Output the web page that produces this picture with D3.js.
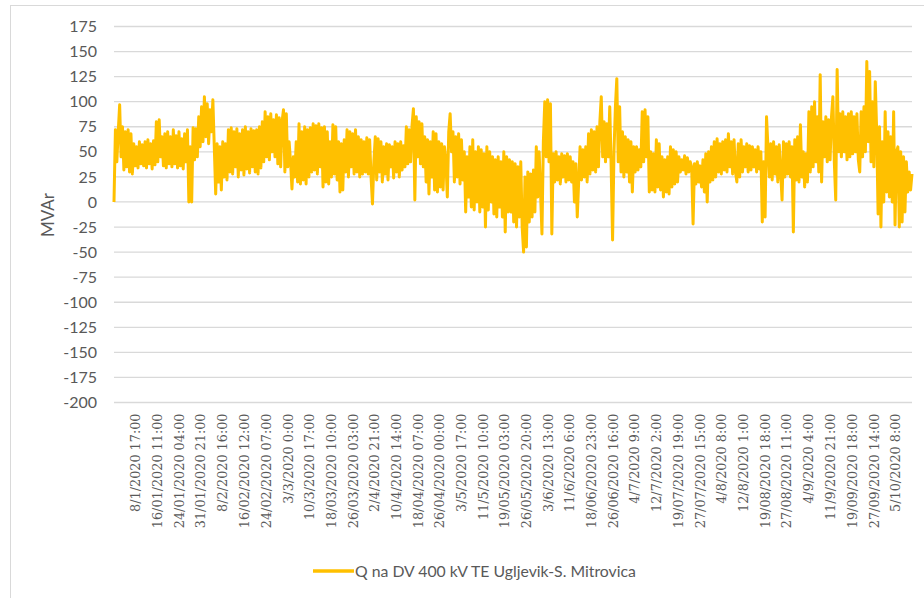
<!DOCTYPE html>
<html><head><meta charset="utf-8">
<script src="https://cdn.jsdelivr.net/npm/d3@7"></script>
<style>body{margin:0;background:#fff}svg{display:block}</style>
</head><body>
<svg id="c" width="924" height="598"></svg>
<script>
const qValues = [
  0, 72, 40, 70, 97, 45, 75, 32, 70, 35, 72, 30, 68, 28, 58, 36, 55, 34, 60, 38,
  57, 36, 60, 34, 62, 38, 58, 33, 61, 37, 80, 40, 82, 45, 65, 36, 68, 34, 70, 38,
  65, 35, 72, 38, 66, 34, 70, 36, 63, 33, 68, 40, 72, 0, 55, 0, 74, 42, 73, 45,
  85, 55, 95, 60, 105, 65, 98, 58, 92, 70, 102, 55, 8, 58, 20, 55, 12, 60, 25, 58,
  22, 72, 30, 74, 28, 70, 35, 73, 25, 68, 32, 72, 27, 75, 33, 70, 29, 73, 35, 71,
  30, 72, 28, 75, 34, 80, 40, 90, 45, 85, 42, 88, 50, 82, 45, 87, 38, 84, 35, 80,
  92, 30, 88, 35, 60, 40, 13, 45, 25, 60, 20, 78, 18, 70, 22, 75, 18, 72, 25, 74,
  30, 78, 32, 76, 28, 78, 35, 74, 15, 75, 20, 70, 18, 60, 25, 77, 28, 75, 22, 60,
  10, 58, 12, 62, 30, 72, 25, 70, 35, 68, 28, 72, 30, 65, 25, 62, 28, 60, 30, 64,
  28, 62, 25, -2, 40, 65, 22, 63, 30, 60, 20, 55, 28, 58, 22, 57, 35, 55, 24, 60,
  30, 58, 25, 60, 32, 56, 35, 75, 38, 72, 40, 76, 93, 2, 85, 45, 80, 38, 78, 35,
  65, 20, 62, 8, 60, 25, 70, 12, 68, 10, 60, 15, 58, 12, 55, 40, 5, 70, 88, 50,
  70, 20, 65, 25, 68, 18, 62, 22, 50, -10, 45, 5, 55, -5, 62, -8, 50, 0, 55, -10,
  52, -5, 48, -25, 55, -8, 50, 0, 45, -12, 42, -15, 45, -5, 40, -15, 50, -30, 45, -10,
  42, -10, 40, -20, 38, -25, 35, -15, 40, -25, -50, 25, -45, 30, -20, 28, -15, 32, -10, 55,
  5, 50, 10, -32, 60, 100, 45, 102, 40, 98, -32, 48, 20, 50, 22, 45, 18, 48, 25, 46,
  20, 48, 22, 45, 20, 40, 0, 38, -15, 20, 55, 22, 52, 25, 55, 20, 68, 28, 72, 32,
  70, 30, 75, 35, 80, 105, 45, 80, 40, 78, 45, 95, 35, -38, 50, 95, 123, 40, 95, 30,
  70, 25, 65, 30, 62, 20, 60, 10, 55, 30, 55, 32, 52, 35, 90, 40, 92, 45, 85, 10,
  50, 12, 48, 10, 62, 15, 58, 12, 45, 5, 42, 10, 45, 8, 55, 15, 52, 18, 50, 20,
  45, 30, 42, 32, 46, 28, 44, 30, 40, 35, -22, 38, 18, 40, 20, 36, 15, 42, 10, 48,
  0, 50, 20, 55, 22, 60, 25, 63, 30, 58, 28, 60, 32, 62, 30, 68, 35, 60, 28, 62,
  30, 20, 58, 25, 62, 30, 55, 35, 58, 30, 56, 32, 55, 35, 52, 30, 55, 33, 50, -20,
  40, -15, 85, 55, 25, 58, 22, 60, 28, 55, 20, 57, 30, 2, 60, 25, 58, 28, 60, 25,
  55, -30, 62, 22, 65, 20, 77, 25, 50, 15, 48, 20, 90, 30, 95, 35, 100, 40, 85, 30,
  127, 20, 80, 45, 85, 40, 82, 42, 85, 105, 40, 2, 132, 50, 88, 45, 90, 50, 85, 42,
  88, 45, 90, 48, 85, 50, 88, 42, 30, 90, 45, 95, 50, 140, 60, 130, 40, 100, 35, 120,
  70, -12, 75, -25, 60, 0, 90, 10, 70, 5, 65, 0, 90, -23, 50, 55, -25, 50, -20, 45,
  -10, 40, 10, 30, 12, 28
];
const xLabels = [
  "8/1/2020 17:00","16/01/2020 11:00","24/01/2020 04:00","31/01/2020 21:00",
  "8/2/2020 16:00","16/02/2020 12:00","24/02/2020 07:00","3/3/2020 0:00",
  "10/3/2020 17:00","18/03/2020 10:00","26/03/2020 03:00","2/4/2020 21:00",
  "10/4/2020 14:00","18/04/2020 07:00","26/04/2020 00:00","3/5/2020 17:00",
  "11/5/2020 10:00","19/05/2020 03:00","26/05/2020 20:00","3/6/2020 13:00",
  "11/6/2020 6:00","18/06/2020 23:00","26/06/2020 16:00","4/7/2020 9:00",
  "12/7/2020 2:00","19/07/2020 19:00","27/07/2020 15:00","4/8/2020 8:00",
  "12/8/2020 1:00","19/08/2020 18:00","27/08/2020 11:00","4/9/2020 4:00",
  "11/9/2020 21:00","19/09/2020 18:00","27/09/2020 14:00","5/10/2020 8:00"
];
const yTicks = [175,150,125,100,75,50,25,0,-25,-50,-75,-100,-125,-150,-175,-200];
const seriesName = "Q na DV 400 kV TE Ugljevik-S. Mitrovica";
const yTitle = "MVAr";
const totalHours = 6817;

const svg = d3.select("#c");
const L = 114, R = 912, T = 26.5, B = 402.5;
const grey = "#595959", lineCol = "#FFC000";
const sans = "Lato, 'Open Sans', sans-serif";

svg.append("rect").attr("x",10.5).attr("y",5.5).attr("width",940).attr("height",620)
  .attr("fill","#fff").attr("stroke","#d9d9d9").attr("stroke-width",1);

const parse = s => {
  const [d, t] = s.split(" ");
  const [dd, mm, yy] = d.split("/").map(Number);
  const [hh] = t.split(":").map(Number);
  return (Date.UTC(yy, mm-1, dd, hh) - Date.UTC(2020,0,1,0)) / 3600000;
};
const x = d3.scaleLinear().domain([0, totalHours]).range([L, R]);
const y = d3.scaleLinear().domain([-200, 175]).range([B, T]);
const step = totalHours / (qValues.length - 1);

// grid
svg.append("g").selectAll("line").data(yTicks).join("line")
  .attr("x1",L).attr("x2",R).attr("y1",d=>y(d)).attr("y2",d=>y(d))
  .attr("stroke","#d9d9d9").attr("stroke-width",1.3);

// y axis labels
const yAxis = d3.axisLeft(y).tickValues(yTicks).tickSize(0).tickPadding(0).tickFormat(d => String(d));
const gy = svg.append("g").attr("transform",`translate(${L-17},0)`).call(yAxis);
gy.select(".domain").remove();
gy.selectAll("text").attr("fill",grey).style("font-family",sans).style("font-size","16px");

svg.append("text").attr("transform","translate(54,215) rotate(-90)")
  .attr("text-anchor","middle").attr("fill",grey)
  .style("font-family",sans).style("font-size","17px").text(yTitle);

// x axis labels
const gx = svg.append("g");
gx.selectAll("text").data(xLabels).join("text")
  .attr("transform", d => `translate(${x(parse(d))},${B+11}) rotate(-90)`)
  .attr("text-anchor","end").attr("dy","0.35em").attr("fill",grey)
  .style("font-family","'DejaVu Serif', 'Liberation Serif', serif").style("font-size","12.8px")
  .text(d=>d);

// series
const line = d3.line().x((d,i)=>x(i*step)).y(d=>y(d));
svg.append("path").datum(qValues).attr("d",line).attr("fill","none")
  .attr("stroke",lineCol).attr("stroke-width",3).attr("stroke-linejoin","round");

// legend
svg.append("line").attr("x1",313).attr("x2",354).attr("y1",571).attr("y2",571)
  .attr("stroke",lineCol).attr("stroke-width",3.5);
svg.append("text").attr("x",355).attr("y",571).attr("dy","0.35em").attr("fill",grey)
  .style("font-family",sans).style("font-size","15.8px").text(seriesName);
</script>
</body></html>
